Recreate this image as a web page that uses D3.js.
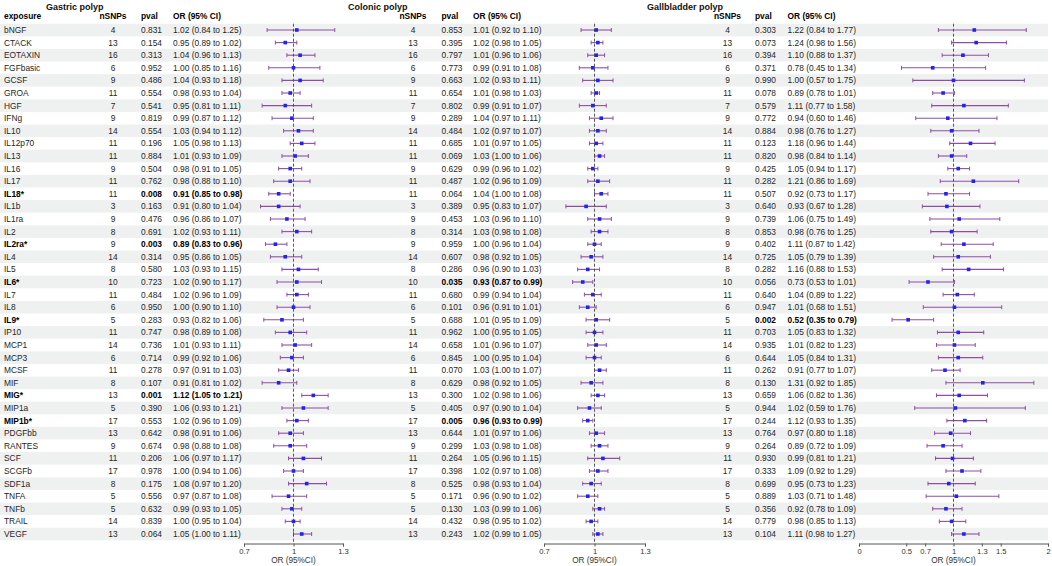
<!DOCTYPE html>
<html>
<head>
<meta charset="utf-8">
<script src="https://cdn.jsdelivr.net/npm/d3@7"></script>
<style>
  html, body { margin: 0; padding: 0; background: #fff; }
  svg { display: block; font-family: "Liberation Sans", Arial, sans-serif; }
  .cell { font-size: 8.4px; fill: #262626; }
  .bold { font-weight: bold; fill: #000; }
  .title { font-size: 9px; font-weight: bold; fill: #111; }
  .axis text { font-size: 7.6px; fill: #333; }
  .axis path, .axis line { stroke: #555; }
</style>
</head>
<body>
<svg id="chart" width="1052" height="566"></svg>
<script>
// ============ Data ============
const exposures = ["bNGF","CTACK","EOTAXIN","FGFbasic","GCSF","GROA","HGF","IFNg","IL10","IL12p70",
  "IL13","IL16","IL17","IL18*","IL1b","IL1ra","IL2","IL2ra*","IL4","IL5",
  "IL6*","IL7","IL8","IL9*","IP10","MCP1","MCP3","MCSF","MIF","MIG*",
  "MIP1a","MIP1b*","PDGFbb","RANTES","SCF","SCGFb","SDF1a","TNFA","TNFb","TRAIL","VEGF"];

const nSNPs = [4,13,16,6,9,11,7,9,14,11, 11,9,11,11,3,9,8,9,14,8, 10,11,6,5,11,14,6,11,8,13, 5,17,13,9,11,17,8,5,5,14,13];

// Gastric polyp
const gastricP  = ["0.831","0.154","0.313","0.952","0.486","0.554","0.541","0.819","0.554","0.196",
  "0.884","0.504","0.762","0.008","0.163","0.476","0.691","0.003","0.314","0.580",
  "0.723","0.484","0.950","0.283","0.747","0.736","0.714","0.278","0.107","0.001",
  "0.390","0.553","0.642","0.674","0.206","0.978","0.175","0.556","0.632","0.839","0.064"];
const gastricOR = [1.02,0.95,1.04,1.00,1.04,0.98,0.95,0.99,1.03,1.05, 1.01,0.98,0.98,0.91,0.91,0.96,1.02,0.89,0.95,1.03,
  1.02,1.02,1.00,0.93,0.98,1.01,0.99,0.97,0.91,1.12, 1.06,1.02,0.98,0.98,1.06,1.00,1.08,0.97,0.99,1.00,1.05];
const gastricLo = [0.84,0.89,0.96,0.85,0.93,0.93,0.81,0.87,0.94,0.98, 0.93,0.91,0.88,0.85,0.80,0.86,0.93,0.83,0.86,0.93,
  0.90,0.96,0.90,0.82,0.89,0.93,0.92,0.91,0.81,1.05, 0.93,0.96,0.91,0.88,0.97,0.94,0.97,0.87,0.93,0.95,1.00];
const gastricHi = [1.25,1.02,1.13,1.16,1.18,1.04,1.11,1.12,1.12,1.13, 1.09,1.05,1.10,0.98,1.04,1.07,1.11,0.96,1.05,1.15,
  1.17,1.09,1.10,1.06,1.08,1.11,1.06,1.03,1.02,1.21, 1.21,1.09,1.06,1.08,1.17,1.06,1.20,1.08,1.05,1.04,1.11];

// Colonic polyp
const colonicP  = ["0.853","0.395","0.797","0.773","0.663","0.654","0.802","0.289","0.484","0.685",
  "0.069","0.629","0.487","0.064","0.389","0.453","0.314","0.959","0.607","0.286",
  "0.035","0.680","0.101","0.688","0.962","0.658","0.845","0.070","0.629","0.300",
  "0.405","0.005","0.644","0.299","0.264","0.398","0.525","0.171","0.130","0.432","0.243"];
const colonicOR = [1.01,1.02,1.01,0.99,1.02,1.01,0.99,1.04,1.02,1.01, 1.03,0.99,1.02,1.04,0.95,1.03,1.03,1.00,0.98,0.96,
  0.93,0.99,0.96,1.01,1.00,1.01,1.00,1.03,0.98,1.02, 0.97,0.96,1.01,1.03,1.05,1.02,0.98,0.96,1.03,0.98,1.02];
const colonicLo = [0.92,0.98,0.96,0.91,0.93,0.98,0.91,0.97,0.97,0.97, 1.00,0.96,0.96,1.00,0.83,0.96,0.98,0.96,0.92,0.90,
  0.87,0.94,0.91,0.95,0.95,0.96,0.95,1.00,0.92,0.98, 0.90,0.93,0.97,0.98,0.96,0.97,0.93,0.90,0.99,0.95,0.99];
const colonicHi = [1.10,1.05,1.06,1.08,1.11,1.03,1.07,1.11,1.07,1.05, 1.06,1.02,1.09,1.08,1.07,1.10,1.08,1.04,1.05,1.03,
  0.99,1.04,1.01,1.09,1.05,1.07,1.04,1.07,1.05,1.06, 1.04,0.99,1.06,1.08,1.15,1.08,1.04,1.02,1.06,1.02,1.05];

// Gallbladder polyp
const gallP  = ["0.303","0.073","0.394","0.371","0.990","0.078","0.579","0.772","0.884","0.123",
  "0.820","0.425","0.282","0.507","0.640","0.739","0.853","0.402","0.725","0.282",
  "0.056","0.640","0.947","0.002","0.703","0.935","0.644","0.262","0.130","0.659",
  "0.944","0.244","0.764","0.264","0.930","0.333","0.699","0.889","0.356","0.779","0.104"];
const gallOR = [1.22,1.24,1.10,0.78,1.00,0.89,1.11,0.94,0.98,1.18, 0.98,1.05,1.21,0.92,0.93,1.06,0.98,1.11,1.05,1.16,
  0.73,1.04,1.01,0.52,1.05,1.01,1.05,0.91,1.31,1.06, 1.02,1.12,0.97,0.89,0.99,1.09,0.95,1.03,0.92,0.98,1.11];
const gallLo = [0.84,0.98,0.88,0.45,0.57,0.78,0.77,0.60,0.76,0.96, 0.84,0.94,0.86,0.73,0.67,0.75,0.76,0.87,0.79,0.88,
  0.53,0.89,0.68,0.35,0.83,0.82,0.84,0.77,0.92,0.82, 0.59,0.93,0.80,0.72,0.81,0.92,0.73,0.71,0.78,0.85,0.98];
const gallHi = [1.77,1.56,1.37,1.34,1.75,1.01,1.58,1.46,1.27,1.44, 1.14,1.17,1.69,1.17,1.28,1.49,1.25,1.42,1.39,1.53,
  1.01,1.22,1.51,0.79,1.32,1.23,1.31,1.07,1.85,1.36, 1.76,1.35,1.18,1.09,1.21,1.29,1.23,1.48,1.09,1.13,1.27];

const gastricTicks = [0.7, 1, 1.3];
const colonicTicks = [0.7, 1, 1.3];
const gallTicks = [0, 0.5, 0.7, 1, 1.3, 1.5, 2];

// ============ Layout ============
const ROW_TOP = 23.7, ROW_H = 12.6;
const AXIS_Y = 543.5;

const panels = [
  { title: "Gastric polyp", titleX: 46, nsnpX: 113, pvalX: 141, orX: 173,
    domain: [0.7, 1.3], range: [244, 343], ticks: gastricTicks,
    p: gastricP, or: gastricOR, lo: gastricLo, hi: gastricHi },
  { title: "Colonic polyp", titleX: 348, nsnpX: 413, pvalX: 441.5, orX: 473,
    domain: [0.7, 1.3], range: [544, 645], ticks: colonicTicks,
    p: colonicP, or: colonicOR, lo: colonicLo, hi: colonicHi },
  { title: "Gallbladder polyp", titleX: 647, nsnpX: 727.5, pvalX: 755, orX: 787.5,
    domain: [0, 2], range: [859, 1048], ticks: gallTicks,
    p: gallP, or: gallOR, lo: gallLo, hi: gallHi }
];

const svg = d3.select("#chart");

const y = d3.scaleBand()
  .domain(exposures)
  .range([ROW_TOP, ROW_TOP + exposures.length * ROW_H]);

// ---- Zebra stripes ----
svg.append("g").selectAll("rect")
  .data(exposures.filter((d, i) => i % 2 === 0))
  .enter().append("rect")
  .attr("x", 0)
  .attr("width", 1048)
  .attr("y", d => y(d))
  .attr("height", y.bandwidth())
  .attr("fill", "#eff1f1");

const fmt = d3.format(".2f");
const orText = (o, l, h) => `${fmt(o)} (${fmt(l)} to ${fmt(h)})`;
const rowY = d => y(d) + y.bandwidth() / 2 + 3;

// ---- Exposure column ----
svg.append("text").attr("class", "cell bold").attr("x", 4).attr("y", 19).text("exposure");
svg.append("g").selectAll("text")
  .data(exposures)
  .enter().append("text")
  .attr("class", d => d.includes("*") ? "cell bold" : "cell")
  .attr("x", 4)
  .attr("y", rowY)
  .text(d => d);

panels.forEach(pn => {
  const x = d3.scaleLinear().domain(pn.domain).range(pn.range);
  const g = svg.append("g");
  const sig = i => +pn.p[i] < 0.05;

  g.append("text").attr("class", "title").attr("x", pn.titleX).attr("y", 9.5).text(pn.title);
  g.append("text").attr("class", "cell bold").attr("x", pn.nsnpX).attr("y", 19)
    .attr("text-anchor", "middle").text("nSNPs");
  g.append("text").attr("class", "cell bold").attr("x", pn.pvalX).attr("y", 19).text("pval");
  g.append("text").attr("class", "cell bold").attr("x", pn.orX).attr("y", 19).text("OR (95% CI)");

  const rows = g.selectAll("g.row")
    .data(exposures)
    .enter().append("g").attr("class", "row");

  rows.append("text").attr("class", "cell")
    .attr("x", pn.nsnpX).attr("y", rowY).attr("text-anchor", "middle")
    .text((d, i) => nSNPs[i]);
  rows.append("text").attr("class", (d, i) => sig(i) ? "cell bold" : "cell")
    .attr("x", pn.pvalX).attr("y", rowY)
    .text((d, i) => pn.p[i]);
  rows.append("text").attr("class", (d, i) => sig(i) ? "cell bold" : "cell")
    .attr("x", pn.orX).attr("y", rowY)
    .text((d, i) => orText(pn.or[i], pn.lo[i], pn.hi[i]));

  // reference line at OR = 1
  g.append("line")
    .attr("x1", x(1)).attr("x2", x(1))
    .attr("y1", ROW_TOP).attr("y2", AXIS_Y)
    .attr("stroke", "#444").attr("stroke-width", 0.9)
    .attr("stroke-dasharray", "3,2");

  // CI whiskers
  const cy = d => y(d) + y.bandwidth() / 2;
  rows.append("line")
    .attr("x1", (d, i) => x(pn.lo[i])).attr("x2", (d, i) => x(pn.hi[i]))
    .attr("y1", cy).attr("y2", cy)
    .attr("stroke", "#8e4fa3").attr("stroke-width", 1.1);
  ["lo", "hi"].forEach(k => {
    rows.append("line")
      .attr("x1", (d, i) => x(pn[k][i])).attr("x2", (d, i) => x(pn[k][i]))
      .attr("y1", d => cy(d) - 2).attr("y2", d => cy(d) + 2)
      .attr("stroke", "#8e4fa3").attr("stroke-width", 1);
  });
  rows.append("rect")
    .attr("x", (d, i) => x(pn.or[i]) - 1.8).attr("y", d => cy(d) - 1.8)
    .attr("width", 3.6).attr("height", 3.6)
    .attr("fill", "#2323f0");

  // x axis
  const axis = g.append("g").attr("class", "axis")
    .attr("transform", `translate(0,${AXIS_Y})`)
    .call(d3.axisBottom(x).tickValues(pn.ticks).tickSize(3).tickPadding(2)
      .tickFormat(d => String(d)));
  axis.select(".domain").attr("stroke", "#555");
  g.append("text")
    .attr("x", x(1)).attr("y", 563)
    .attr("text-anchor", "middle")
    .style("font-size", "8.2px").style("fill", "#333")
    .text("OR (95%CI)");
});
</script>
</body>
</html>
